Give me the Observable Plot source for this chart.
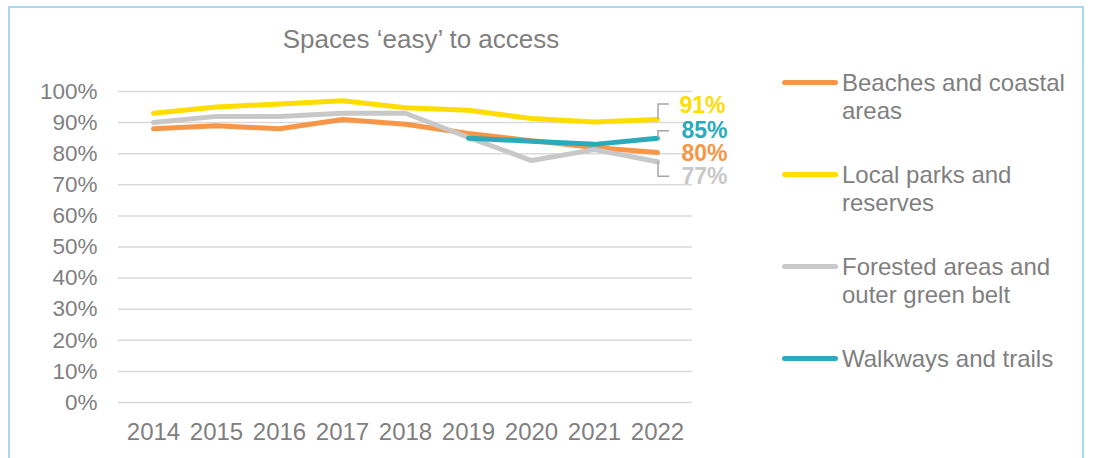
<!DOCTYPE html>
<html>
<head>
<meta charset="utf-8">
<script src="https://cdn.jsdelivr.net/npm/d3@7"></script>
<script src="https://cdn.jsdelivr.net/npm/@observablehq/plot@0.6"></script>
<style>
  html, body { margin: 0; padding: 0; background: #fff; }
  #wrap { position: relative; width: 1096px; height: 458px; overflow: hidden; font-family: "Liberation Sans", Arial, sans-serif; }
  #frame { position: absolute; left: 8px; top: 6px; width: 1076px; height: 480px; border: 2px solid #a9d9f0; box-sizing: border-box; }
  #title { position: absolute; left: 221px; width: 400px; top: 24px; text-align: center; font-size: 26px; line-height: 30px; color: #7f7f7f; white-space: nowrap; }
  #chart { position: absolute; left: 0; top: 0; }
  .lg { position: absolute; left: 782px; }
  .lg .sw { position: absolute; left: 0; width: 56px; height: 5px; border-radius: 3px; }
  .lg .tx { position: absolute; left: 60px; width: 260px; font-size: 24px; line-height: 28px; color: #7f7f7f; white-space: nowrap; }
</style>
</head>
<body>
<div id="wrap">
  <div id="frame"></div>
  <div id="title"></div>
  <div id="chart"></div>
  <div id="legend"></div>
</div>
<script>
const title = "Spaces \u2018easy\u2019 to access";
const years = ["2014", "2015", "2016", "2017", "2018", "2019", "2020", "2021", "2022"];
const seriesNames = ["Beaches and coastal areas", "Local parks and reserves", "Forested areas and outer green belt", "Walkways and trails"];
const legendLines = [["Beaches and coastal", "areas"], ["Local parks and", "reserves"], ["Forested areas and", "outer green belt"], ["Walkways and trails"]];
const seriesColors = ["#f79646", "#ffdd00", "#c8c8c8", "#2aabbb"];
const beaches  = [88, 89, 88, 91, 89.5, 86.5, 84.2, 82, 80.4];
const parks    = [93, 95, 96, 97, 94.8, 94, 91.3, 90.2, 91];
const forested = [90, 92, 92, 93, 93, 85.2, 77.8, 81.3, 77.4];
const walkways = [null, null, null, null, null, 85, 84, 83, 85];
const endLabels = ["80%", "91%", "77%", "85%"];
const yTicks = [0, 10, 20, 30, 40, 50, 60, 70, 80, 90, 100];

const allSeries = [beaches, parks, forested, walkways];
const rows = [];
allSeries.forEach((vals, i) => vals.forEach((v, j) => { if (v != null) rows.push({series: seriesNames[i], year: years[j], value: v}); }));

// label styling: pixel offsets per series
const labelStyle = [
  {dx: 24, dy: 1,   lead: 0},
  {dx: 22, dy: -14, lead: -15},
  {dx: 24, dy: 15,  lead: 15},
  {dx: 24, dy: -8,  lead: -7}
];

document.getElementById("title").textContent = title;

const labelMarks = allSeries.map((vals, i) => Plot.text([{year: years[years.length - 1], value: vals[vals.length - 1]}], {
  x: "year", y: "value", text: () => endLabels[i], fill: seriesColors[i],
  dx: labelStyle[i].dx, dy: labelStyle[i].dy, textAnchor: "start", fontWeight: "bold", fontSize: 23
}));

const chart = Plot.plot({
  width: 760, height: 458,
  marginLeft: 118, marginRight: 68, marginTop: 91, marginBottom: 56,
  style: {fontFamily: "'Liberation Sans', Arial, sans-serif", fontSize: "22.5px", color: "#7f7f7f", background: "transparent", overflow: "visible"},
  x: {type: "point", domain: years, padding: 0.5, label: null, tickSize: 0, tickPadding: 20},
  y: {domain: [0, 100], ticks: yTicks, tickFormat: d => d + "%", tickSize: 0, tickPadding: 21, label: null},
  color: {domain: seriesNames, range: seriesColors},
  marks: [
    Plot.ruleY(yTicks, {stroke: "#d9d9d9", strokeWidth: 1.5}),
    Plot.line(rows, {x: "year", y: "value", stroke: "series", z: "series", strokeWidth: 5, strokeLinecap: "round", strokeLinejoin: "round"}),
    ...labelMarks
  ]
});
document.getElementById("chart").appendChild(chart);

const svg = d3.select(chart);
// larger year labels
svg.selectAll('g[aria-label^="x-axis"] text').attr("font-size", "24px").style("font-size", "24px");

// leader lines
const sx = chart.scale("x"), sy = chart.scale("y");
allSeries.forEach((vals, i) => {
  const L = labelStyle[i].lead;
  if (!L) return;
  const x0 = sx.apply(years[years.length - 1]) + 1;
  const y0 = sy.apply(vals[vals.length - 1]);
  svg.append("path")
    .attr("d", `M${x0},${y0}V${y0 + L}H${x0 + 11}`)
    .attr("fill", "none").attr("stroke", "#a6a6a6").attr("stroke-width", 1.5);
});

// legend
const legend = document.getElementById("legend");
const legendY = [82, 174, 266, 358];
seriesNames.forEach((name, i) => {
  const el = document.createElement("div");
  el.className = "lg";
  el.style.top = legendY[i] + "px";
  el.innerHTML = `<div class="sw" style="top:-2.5px;background:${seriesColors[i]}"></div>` +
    `<div class="tx" style="top:-13px">${legendLines[i].join("<br>")}</div>`;
  legend.appendChild(el);
});
</script>
</body>
</html>
